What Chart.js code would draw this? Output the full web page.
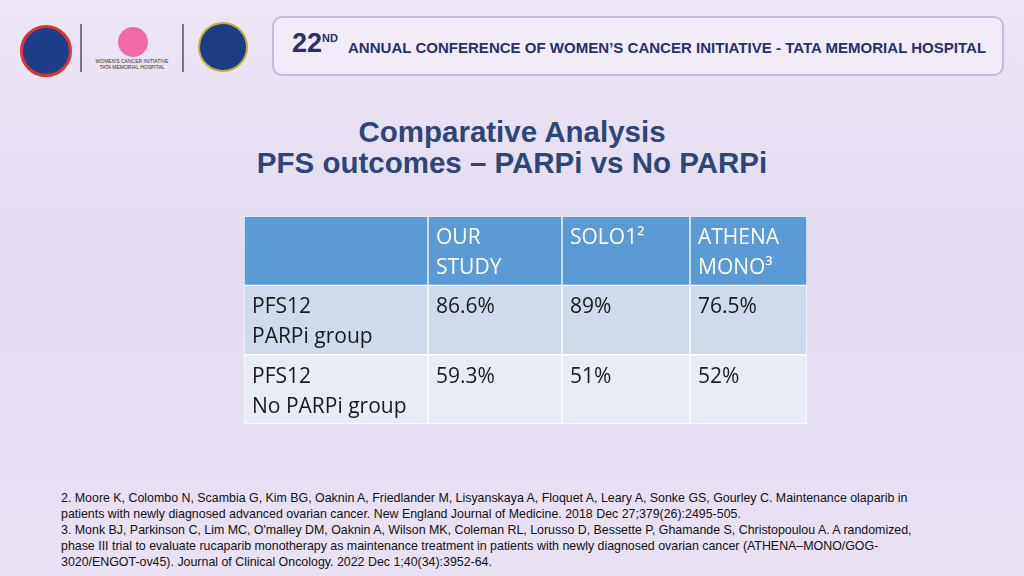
<!DOCTYPE html>
<html><head><meta charset="utf-8">
<script src="https://cdn.jsdelivr.net/npm/chart.js@4"></script>
<style>
body{margin:0;width:1024px;height:576px;overflow:hidden;font-family:"Liberation Sans",Arial,sans-serif;
background:linear-gradient(180deg,#ece6f5 0%,#e4dcf0 45%,#e9e2f3 100%);position:relative}
#ban{position:absolute;left:272px;top:16px;width:728px;height:56px;border:2px solid #c9b8de;border-radius:10px;background:#f1ecf7}
#ban span{position:absolute;left:18px;top:10px;color:#27306b;font-weight:bold;font-size:27px}
#ban sup{font-size:11px}
#ban b{position:absolute;left:74px;top:21px;color:#27306b;font-size:15.5px;font-weight:bold;white-space:nowrap;transform:scaleX(0.97);transform-origin:left}
.logo{position:absolute;border-radius:50%}
#t{position:absolute;left:0;width:1024px;top:116px;text-align:center;color:#2e4677;font-weight:bold;font-size:29.5px;line-height:31px}
#wrap{position:absolute;left:244px;top:216px;width:563px;height:208px}
#ref{position:absolute;left:61px;top:490px;width:960px;font-size:12.4px;line-height:16px;color:#111;white-space:nowrap}
</style></head><body>
<div class="logo" style="left:20px;top:25px;width:46px;height:46px;background:#1d3f8a;border:3px solid #d33"></div>
<div style="position:absolute;left:80px;top:24px;width:2px;height:48px;background:#777"></div>
<div class="logo" style="left:118px;top:27px;width:30px;height:30px;background:#f06aa6"></div>
<div style="position:absolute;left:92px;top:58px;width:80px;font-size:5px;text-align:center;color:#333">WOMEN'S CANCER INITIATIVE<br>TATA MEMORIAL HOSPITAL</div>
<div style="position:absolute;left:182px;top:24px;width:2px;height:48px;background:#777"></div>
<div class="logo" style="left:198px;top:22px;width:46px;height:46px;background:#1e3c83;border:2px solid #c9a93a"></div>
<div id="ban"><span>22<sup>ND</sup></span><b>ANNUAL CONFERENCE OF WOMEN’S CANCER INITIATIVE - TATA MEMORIAL HOSPITAL</b></div>
<div id="t"><div>Comparative Analysis</div><div>PFS outcomes – PARPi vs No PARPi</div></div>
<div id="wrap"><canvas id="c"></canvas></div>
<div id="ref">2. Moore K, Colombo N, Scambia G, Kim BG, Oaknin A, Friedlander M, Lisyanskaya A, Floquet A, Leary A, Sonke GS, Gourley C. Maintenance olaparib in<br>patients with newly diagnosed advanced ovarian cancer. New England Journal of Medicine. 2018 Dec 27;379(26):2495-505.<br>3. Monk BJ, Parkinson C, Lim MC, O'malley DM, Oaknin A, Wilson MK, Coleman RL, Lorusso D, Bessette P, Ghamande S, Christopoulou A. A randomized,<br>phase III trial to evaluate rucaparib monotherapy as maintenance treatment in patients with newly diagnosed ovarian cancer (ATHENA–MONO/GOG-<br>3020/ENGOT-ov45). Journal of Clinical Oncology. 2022 Dec 1;40(34):3952-64.</div>
<script>
const rowLabels=["header","PFS12\nPARPi group","PFS12\nNo PARPi group"];
const columnHeaders=["","OUR\nSTUDY","SOLO1²","ATHENA\nMONO³"];
const ourStudy=[86.6,59.3];
const solo1=[89,51];
const athenaMono=[76.5,52];
const colEdges=[0,184,318,446,563];
const fmt=v=>v+"%";
const cols=[[columnHeaders[0],rowLabels[1],rowLabels[2]],
 [columnHeaders[1],fmt(ourStudy[0]),fmt(ourStudy[1])],
 [columnHeaders[2],fmt(solo1[0]),fmt(solo1[1])],
 [columnHeaders[3],fmt(athenaMono[0]),fmt(athenaMono[1])]];
const rowColors=["#5b9bd5","#cfdaeb","#e8ecf4"];
const datasets=cols.map((c,i)=>({data:rowLabels.map(()=>[colEdges[i],colEdges[i+1]]),texts:c,
 backgroundColor:rowColors,borderColor:"#ffffff",borderWidth:1,borderSkipped:false,barPercentage:1,categoryPercentage:1,grouped:false}));
const textPlugin={id:"txt",afterDatasetsDraw(ch){const ctx=ch.ctx;ctx.save();ctx.font="21px 'Open Sans','Liberation Sans',sans-serif";ctx.textBaseline="alphabetic";
 ch.data.datasets.forEach((ds,di)=>{ch.getDatasetMeta(di).data.forEach((b,ri)=>{
  const top=b.y-b.height/2;const left=Math.min(b.x,b.base);
  ctx.fillStyle=ri===0?"#ffffff":"#1a1a1a";
  ds.texts[ri].split("\n").forEach((l,k)=>ctx.fillText(l,left+8,top+28+k*30));});});ctx.restore();}};
new Chart(document.getElementById("c"),{type:"bar",data:{labels:rowLabels,datasets},plugins:[textPlugin],
 options:{indexAxis:"y",responsive:true,maintainAspectRatio:false,animation:false,layout:{padding:0},
 plugins:{legend:{display:false},tooltip:{enabled:false}},
 scales:{x:{type:"linear",min:0,max:563,display:false},y:{display:false,grid:{display:false}}}}});
</script></body></html>
